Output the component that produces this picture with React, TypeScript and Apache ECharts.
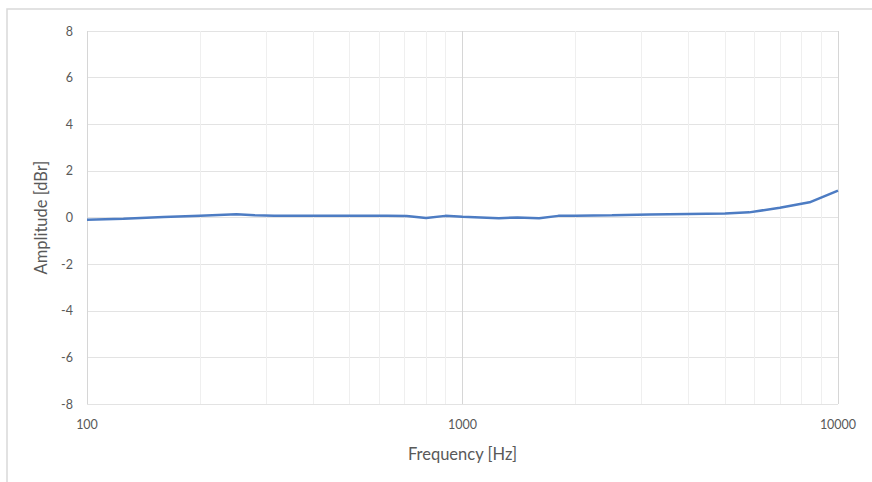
import React, { useEffect, useRef } from "react";
import * as echarts from "echarts";

const frequencies = [100, 125, 160, 200, 250, 280, 315, 400, 500, 630, 710, 800, 900, 1000, 1250, 1400, 1600, 1800, 2000, 2500, 3150, 4000, 5000, 5800, 7000, 8400, 10000];
const amplitudes = [-0.1, -0.05, 0.02, 0.08, 0.14, 0.1, 0.08, 0.08, 0.08, 0.08, 0.06, -0.02, 0.07, 0.03, -0.03, 0.0, -0.03, 0.07, 0.08, 0.1, 0.13, 0.15, 0.17, 0.22, 0.42, 0.65, 1.15];
const minorGridFreqs = [200, 300, 400, 500, 600, 700, 800, 900, 2000, 3000, 4000, 5000, 6000, 7000, 8000, 9000];

export default function App() {
  const ref = useRef<HTMLDivElement>(null);
  useEffect(() => {
    if (!ref.current) return;
    const chart = echarts.init(ref.current, undefined, { renderer: "svg" });
    const font = "Lato, 'Open Sans', sans-serif";
    chart.setOption({
      animation: false,
      backgroundColor: "#ffffff",
      textStyle: { fontFamily: font },
      graphic: [
        {
          type: "rect",
          shape: { x: 7, y: 9, width: 880, height: 490 },
          style: { fill: "none", stroke: "#d9d9d9", lineWidth: 1.5 },
          silent: true,
          z: -1,
        },
      ],
      grid: { left: 87, right: 34, top: 31, bottom: 78, containLabel: false },
      xAxis: {
        type: "log",
        logBase: 10,
        min: 100,
        max: 10000,
        name: "Frequency [Hz]",
        nameLocation: "middle",
        nameGap: 41,
        nameTextStyle: { color: "#595959", fontSize: 16.5, fontFamily: font },
        axisLine: { show: false },
        axisTick: { show: false },
        axisLabel: {
          color: "#595959",
          fontSize: 12.5,
          fontFamily: font,
          margin: 14,
          formatter: (v: number) => String(Math.round(v)),
        },
        splitLine: { show: true, lineStyle: { color: "#d6d6d6", width: 1 } },
      },
      yAxis: {
        type: "value",
        min: -8,
        max: 8,
        interval: 2,
        name: "Amplitude [dBr]",
        nameLocation: "middle",
        nameGap: 38,
        nameTextStyle: { color: "#595959", fontSize: 16.5, fontFamily: font },
        axisLine: { show: false },
        axisTick: { show: false },
        axisLabel: { color: "#595959", fontSize: 12.5, fontFamily: font, margin: 14 },
        splitLine: { show: true, lineStyle: { color: "#e3e3e3", width: 1 } },
      },
      series: [
        {
          type: "line",
          data: [],
          z: 1,
          silent: true,
          markLine: {
            silent: true,
            symbol: "none",
            label: { show: false },
            lineStyle: { color: "#efefef", type: "solid", width: 1 },
            data: minorGridFreqs.map((f) => ({ xAxis: f })),
          },
        },
        {
          type: "line",
          z: 5,
          data: frequencies.map((f, i) => [f, amplitudes[i]]),
          showSymbol: false,
          smooth: false,
          lineStyle: { color: "#4d7cc3", width: 2.5 },
        },
      ],
    });
    return () => chart.dispose();
  }, []);
  return (
    <div
      ref={ref}
      style={{ position: "absolute", left: 0, top: 0, width: 872, height: 482 }}
    />
  );
}
